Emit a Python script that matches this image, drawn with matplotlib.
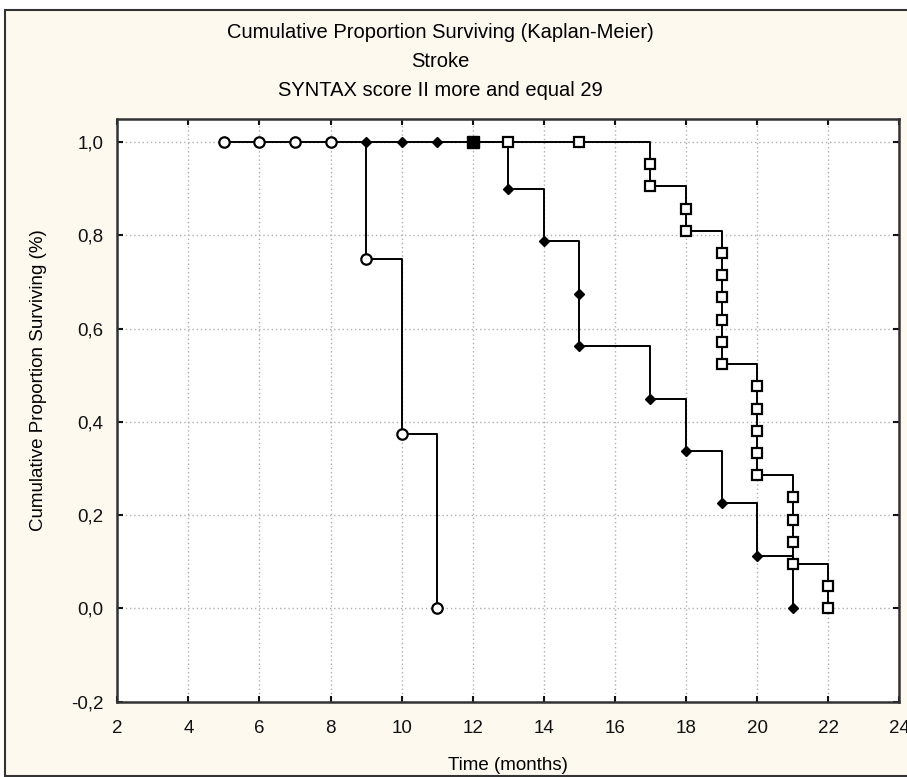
import numpy as np
import matplotlib
matplotlib.use('Agg')
import matplotlib.pyplot as plt
from matplotlib.patches import Rectangle
from matplotlib.ticker import FuncFormatter, MultipleLocator

plt.rcParams['font.family'] = ['Liberation Sans', 'DejaVu Sans']

# open circles
circle_t = [5, 6, 7, 8, 9, 10, 11]
circle_s = [1.0, 1.0, 1.0, 1.0, 0.75, 0.375, 0.0]

# filled diamonds
diamond_t = [9, 10, 11, 13, 14, 15, 15, 17, 18, 19, 20, 21]
diamond_s = [1.0, 1.0, 1.0, 0.9, 0.7875, 0.675, 0.5625, 0.45, 0.3375, 0.225, 0.1125, 0.0]

# open squares (first one drawn filled)
square_t = [12, 13, 15, 17, 17, 18, 18, 19, 19, 19, 19, 19, 19,
            20, 20, 20, 20, 20, 21, 21, 21, 21, 22, 22]
square_s = [1.0, 1.0, 1.0, 20/21, 19/21, 18/21, 17/21, 16/21, 15/21, 14/21, 13/21, 12/21, 11/21,
            10/21, 9/21, 8/21, 7/21, 6/21, 5/21, 4/21, 3/21, 2/21, 1/21, 0.0]

title_lines = ['Cumulative Proportion Surviving (Kaplan-Meier)', 'Stroke',
               'SYNTAX score II more and equal 29']

bg = '#fdf9ef'
fs = 13.5
fig = plt.figure(figsize=(9.07, 7.77), dpi=100, facecolor='white')
W, H = 907, 777

# window frame with cream fill
fig.patches.append(Rectangle((5 / W, 1 / H), 1.0, 766 / H, transform=fig.transFigure,
                             facecolor=bg, edgecolor='#333333', linewidth=1.5, zorder=-10))

ax = fig.add_axes([117.3 / W, 1 - 701.7 / H, (899.3 - 117.3) / W, (701.7 - 118.7) / H])
ax.set_facecolor('white')

lw = 1.4
ax.plot(circle_t, circle_s, drawstyle='steps-post', color='black', lw=lw, zorder=2)
ax.plot(diamond_t, diamond_s, drawstyle='steps-post', color='black', lw=lw, zorder=2)
ax.plot(square_t, square_s, drawstyle='steps-post', color='black', lw=lw, zorder=2)

ax.plot(circle_t, circle_s, ls='none', marker='o', ms=7.5, mfc='white', mec='black', mew=1.6, zorder=3)
ax.plot(diamond_t, diamond_s, ls='none', marker='D', ms=5, mfc='black', mec='black', zorder=3)
ax.plot(square_t[1:], square_s[1:], ls='none', marker='s', ms=7.5, mfc='white', mec='black', mew=1.6, zorder=4)
ax.plot(square_t[:1], square_s[:1], ls='none', marker='s', ms=8.5, mfc='black', mec='black', zorder=4)

ax.set_xlim(2, 24)
ax.set_ylim(-0.2, 1.05)
ax.xaxis.set_major_locator(MultipleLocator(2))
ax.yaxis.set_major_locator(MultipleLocator(0.2))
ax.yaxis.set_major_formatter(FuncFormatter(lambda v, p: f'{v:.1f}'.replace('.', ',')))
ax.grid(True, color='#b0b0b0', ls=(0, (1, 2)), lw=1.0, zorder=0)
ax.tick_params(direction='in', length=4, width=1.5, top=True, right=True,
               labelsize=fs, colors='#111111')
ax.tick_params(axis='x', pad=13)
ax.tick_params(axis='y', pad=10)
for s in ax.spines.values():
    s.set_linewidth(1.8)
    s.set_color('#333333')

fig.text(508 / W, 1 - 765 / H, 'Time (months)', ha='center', va='center', fontsize=fs)
fig.text(39 / W, 1 - 380 / H, 'Cumulative Proportion Surviving (%)', ha='center', va='center',
         rotation=90, fontsize=fs)

for i, line in enumerate(title_lines):
    fig.text(440 / W, 1 - (38 + 29 * i) / H, line, ha='center', va='baseline', fontsize=14.5)

fig.savefig('out.png', dpi=100)
